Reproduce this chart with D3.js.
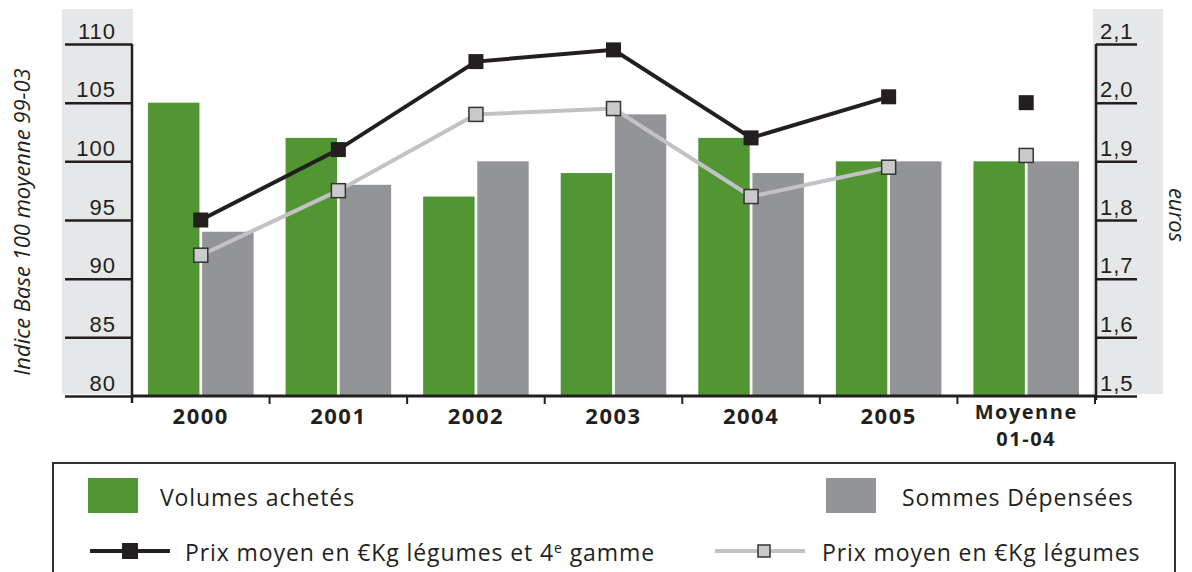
<!DOCTYPE html>
<html>
<head>
<meta charset="utf-8">
<script src="https://cdn.jsdelivr.net/npm/d3@7"></script>
<style>
  body { margin: 0; background: #fff; }
  svg { display: block; font-family: "Open Sans", "Noto Sans", sans-serif; }
</style>
</head>
<body>
<svg id="chart" width="1192" height="572"></svg>
<script>
//
// DATA
//
const categories = ['2000', '2001', '2002', '2003', '2004', '2005', 'Moyenne\n01-04']
const volumes = [105, 102, 97, 99, 102, 100, 100]
const sommes = [94, 98, 100, 104, 99, 100, 100]
const prix4eGamme = [1.80, 1.92, 2.07, 2.09, 1.94, 2.01, 2.00]
const prixLegumes = [1.74, 1.85, 1.98, 1.99, 1.84, 1.89, 1.91]
const leftTicks = [80, 85, 90, 95, 100, 105, 110]
const rightTicks = [1.5, 1.6, 1.7, 1.8, 1.9, 2.0, 2.1]

const colors = {
    green: '#529634',
    grey: '#939498',
    dark: '#231f20',
    light: '#c2c2c6',
    band: '#e6e7e8'
}

const svg = d3.select('#chart')
const fr = d3.formatLocale({ decimal: ',', thousands: ' ', grouping: [3], currency: ['', '€'] })

// scales
const x = d3.scaleBand().domain(categories).range([132, 1095])
const bw = x.bandwidth()
const x1 = d3.scaleBand().domain(['vol', 'som']).range([16, bw - 16]).paddingInner(0.05)
const yL = d3.scaleLinear().domain([80, 110]).range([396, 44])
const yR = d3.scaleLinear().domain([1.5, 2.1]).range([396, 44])

// grey bands behind the axes
svg.append('rect').attr('x', 62).attr('y', 9).attr('width', 71).attr('height', 385).attr('fill', colors.band)
svg.append('rect').attr('x', 1093).attr('y', 9).attr('width', 70).attr('height', 385).attr('fill', colors.band)

// bars
const groups = svg.selectAll('g.cat')
    .data(categories)
    .enter()
    .append('g')
    .attr('class', 'cat')
    .attr('transform', d => `translate(${x(d)},0)`)
groups.append('rect')
    .attr('x', x1('vol'))
    .attr('width', x1.bandwidth())
    .attr('y', (d, i) => yL(volumes[i]))
    .attr('height', (d, i) => yL(80) - yL(volumes[i]))
    .attr('fill', colors.green)
groups.append('rect')
    .attr('x', x1('som'))
    .attr('width', x1.bandwidth())
    .attr('y', (d, i) => yL(sommes[i]))
    .attr('height', (d, i) => yL(80) - yL(sommes[i]))
    .attr('fill', colors.grey)

// left axis
const axL = svg.append('g')
    .attr('transform', 'translate(132,0)')
    .call(d3.axisLeft(yL).tickValues(leftTicks).tickSize(67).tickFormat(d3.format('d')))
axL.select('.domain').remove()
axL.selectAll('.tick line').attr('stroke', colors.dark).attr('stroke-width', 2.5)
axL.selectAll('.tick text')
    .attr('x', -16).attr('y', -6).attr('dy', null)
    .attr('text-anchor', 'end')
    .attr('font-size', 22).attr('font-family', null)
    .attr('letter-spacing', 1)
    .attr('fill', colors.dark)
svg.append('line').attr('x1', 132).attr('x2', 132).attr('y1', 44).attr('y2', 403)
    .attr('stroke', colors.dark).attr('stroke-width', 2.5)

// right axis
const axR = svg.append('g')
    .attr('transform', 'translate(1096,0)')
    .call(d3.axisRight(yR).tickValues(rightTicks).tickSize(41).tickFormat(fr.format('.1f')))
axR.select('.domain').remove()
axR.selectAll('.tick line').attr('stroke', colors.dark).attr('stroke-width', 2.5)
axR.selectAll('.tick text')
    .attr('x', 4).attr('y', -6).attr('dy', null)
    .attr('text-anchor', 'start')
    .attr('font-size', 22).attr('font-family', null)
    .attr('letter-spacing', 1)
    .attr('fill', colors.dark)
svg.append('line').attr('x1', 1096).attr('x2', 1096).attr('y1', 44).attr('y2', 400)
    .attr('stroke', colors.dark).attr('stroke-width', 2.5)

// base line + category ticks
svg.append('line').attr('x1', 132).attr('x2', 1096).attr('y1', 396).attr('y2', 396)
    .attr('stroke', colors.dark).attr('stroke-width', 3)
const bounds = categories.map(d => x(d)).concat([x.range()[1]])
svg.selectAll('line.ctick')
    .data(bounds.slice(1))
    .enter()
    .append('line')
    .attr('class', 'ctick')
    .attr('x1', d => d).attr('x2', d => d)
    .attr('y1', 396).attr('y2', 404)
    .attr('stroke', colors.dark).attr('stroke-width', 2)

// category labels (one text per line)
categories.forEach(d => {
    const lines = d.split('\n')
    lines.forEach((l, i) => {
        svg.append('text')
            .attr('x', x(d) + bw / 2)
            .attr('y', (lines.length > 1 ? 419 : 424) + i * 27)
            .attr('text-anchor', 'middle')
            .attr('font-size', lines.length > 1 ? 20 : 22)
            .attr('font-weight', 'bold')
            .attr('letter-spacing', 1.5)
            .attr('fill', colors.dark)
            .text(l)
    })
})

// axis titles
svg.append('text')
    .attr('transform', 'translate(30,222) rotate(-90)')
    .attr('text-anchor', 'middle')
    .attr('font-size', 22)
    .attr('font-style', 'italic')
    .attr('fill', colors.dark)
    .text('Indice Base 100 moyenne 99-03')
svg.append('text')
    .attr('transform', 'translate(1169,215) rotate(90)')
    .attr('text-anchor', 'middle')
    .attr('font-size', 22)
    .attr('font-style', 'italic')
    .attr('fill', colors.dark)
    .text('euros')

// lines (Moyenne is a lone point)
const line = d3.line().x((d, i) => x(categories[i]) + bw / 2)
svg.append('path')
    .attr('d', line.y(d => yR(d))(prixLegumes.slice(0, 6)))
    .attr('fill', 'none').attr('stroke', colors.light).attr('stroke-width', 4)
svg.append('path')
    .attr('d', line.y(d => yR(d))(prix4eGamme.slice(0, 6)))
    .attr('fill', 'none').attr('stroke', colors.dark).attr('stroke-width', 4)

svg.selectAll('rect.mk1')
    .data(prixLegumes)
    .enter()
    .append('rect')
    .attr('class', 'mk1')
    .attr('x', (d, i) => x(categories[i]) + bw / 2 - 7)
    .attr('y', d => yR(d) - 7)
    .attr('width', 14).attr('height', 14)
    .attr('fill', '#c9cacc').attr('stroke', '#333').attr('stroke-width', 1.5)
svg.selectAll('rect.mk2')
    .data(prix4eGamme)
    .enter()
    .append('rect')
    .attr('class', 'mk2')
    .attr('x', (d, i) => x(categories[i]) + bw / 2 - 7.5)
    .attr('y', d => yR(d) - 7.5)
    .attr('width', 15).attr('height', 15)
    .attr('fill', colors.dark)

// legend
const leg = svg.append('g').attr('font-size', 23).attr('letter-spacing', 0.9).attr('fill', colors.dark)
leg.append('rect').attr('x', 53).attr('y', 463).attr('width', 1122).attr('height', 140)
    .attr('fill', 'none').attr('stroke', '#333').attr('stroke-width', 2)
leg.append('rect').attr('x', 88).attr('y', 478).attr('width', 50).attr('height', 35).attr('fill', colors.green)
leg.append('text').attr('x', 160).attr('y', 506).text('Volumes achetés')
leg.append('rect').attr('x', 826).attr('y', 478).attr('width', 50).attr('height', 35).attr('fill', colors.grey)
leg.append('text').attr('x', 902).attr('y', 506).text('Sommes Dépensées')

leg.append('line').attr('x1', 90).attr('x2', 170).attr('y1', 551).attr('y2', 551)
    .attr('stroke', colors.dark).attr('stroke-width', 4)
leg.append('rect').attr('x', 122).attr('y', 543).attr('width', 16).attr('height', 16).attr('fill', colors.dark)
const t1 = leg.append('text').attr('x', 185).attr('y', 561)
t1.append('tspan').text('Prix moyen en €Kg légumes et 4')
t1.append('tspan').attr('dy', -8).attr('font-size', 14).text('e')
t1.append('tspan').attr('dy', 8).text(' gamme')

leg.append('line').attr('x1', 715).attr('x2', 805).attr('y1', 551).attr('y2', 551)
    .attr('stroke', colors.light).attr('stroke-width', 4)
leg.append('rect').attr('x', 758).attr('y', 545).attr('width', 12).attr('height', 12)
    .attr('fill', '#c9cacc').attr('stroke', '#333').attr('stroke-width', 1.5)
leg.append('text').attr('x', 822).attr('y', 561).text('Prix moyen en €Kg légumes')
</script>
</body>
</html>
